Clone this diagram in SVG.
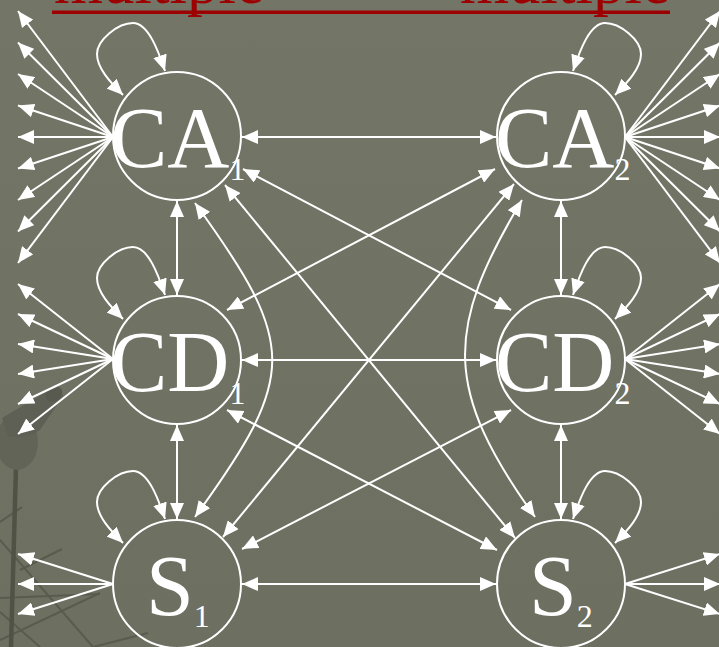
<svg xmlns="http://www.w3.org/2000/svg" width="719" height="647" viewBox="0 0 719 647">
  <defs>
    <linearGradient id="bg" x1="0" y1="0" x2="0" y2="1">
      <stop offset="0" stop-color="#737566"/>
      <stop offset="1" stop-color="#6d6f61"/>
    </linearGradient>
    <marker id="ah" markerUnits="userSpaceOnUse" markerWidth="16" markerHeight="14" viewBox="0 0 16 14" refX="16" refY="7" orient="auto-start-reverse">
      <path d="M0,0 L16,7 L0,14 z" fill="#fff"/>
    </marker>
    <path id="loopL" d="M123,95 C110,82 97,68 97,54 C97,40 118,23 133,23 C148,23 158,50 165,71"/>
    <path id="loopR" d="M615,95 C628,82 641,68 641,54 C641,40 620,23 605,23 C590,23 580,50 573,71"/>
  </defs>
  <style>
    .ln { stroke:#fff; stroke-width:2; fill:none; }
    .bi { marker-start:url(#ah); marker-end:url(#ah); }
    .one { marker-end:url(#ah); }
    .node circle { fill:none; stroke:#fff; stroke-width:2; }
    .lbl { font-family:"Liberation Serif","Times New Roman",serif; font-size:86px; fill:#fff; }
    .sub { font-size:32px; }
    .title { font-family:"Liberation Serif","Times New Roman",serif; font-size:63px; fill:#9c0000; }
    .deco { stroke:#595b4f; stroke-width:2; fill:none; }
  </style>

  <rect width="719" height="647" fill="url(#bg)"/>

  <!-- background decoration (lamp post and net) -->
  <g id="decoration">
    <line class="deco" x1="0" y1="522" x2="22" y2="507"/>
    <line class="deco" x1="0" y1="540" x2="93" y2="647"/>
    <line class="deco" x1="20" y1="570" x2="62" y2="549"/>
    <line class="deco" x1="0" y1="598" x2="100" y2="594"/>
    <line class="deco" x1="0" y1="640" x2="100" y2="593"/>
    <line class="deco" x1="93" y1="647" x2="148" y2="633"/>
    <line class="deco" x1="0" y1="612" x2="40" y2="647"/>
    <line x1="16" y1="466" x2="11" y2="647" stroke="#505246" stroke-width="4.5"/>
    <ellipse cx="17" cy="442" rx="21" ry="28" fill="#626458"/>
    <path d="M2,418 L46,392 Q60,384 63,396 L40,430 Q25,440 8,436 Z" fill="#5e6055"/>
    <ellipse cx="54" cy="394" rx="9" ry="7" transform="rotate(-35 54 394)" fill="#585a4f"/>
  </g>

  <!-- cut-off title -->
  <g id="title">
    <text class="title" x="54" y="3">multiple</text>
    <text class="title" x="460" y="3">multiple</text>
    <rect x="52" y="10.5" width="618" height="3.5" fill="#9c0000"/>
  </g>

  <g id="connectors">
    <!-- fans left -->
    <path class="ln one" d="M113,137 L18,11"/>
    <path class="ln one" d="M113,137 L18,42.5"/>
    <path class="ln one" d="M113,137 L18,74"/>
    <path class="ln one" d="M113,137 L18,105.5"/>
    <path class="ln one" d="M113,137 L18,137"/>
    <path class="ln one" d="M113,137 L18,168.5"/>
    <path class="ln one" d="M113,137 L18,200"/>
    <path class="ln one" d="M113,137 L18,231.5"/>
    <path class="ln one" d="M113,137 L18,263"/>

    <path class="ln one" d="M113,359 L18,284"/>
    <path class="ln one" d="M113,359 L18,314"/>
    <path class="ln one" d="M113,359 L18,344"/>
    <path class="ln one" d="M113,359 L18,374"/>
    <path class="ln one" d="M113,359 L18,404"/>
    <path class="ln one" d="M113,359 L18,434"/>

    <path class="ln one" d="M113,584 L18,554"/>
    <path class="ln one" d="M113,584 L18,584"/>
    <path class="ln one" d="M113,584 L18,614"/>

    <!-- fans right -->
    <path class="ln one" d="M625,137 L720,11"/>
    <path class="ln one" d="M625,137 L720,42.5"/>
    <path class="ln one" d="M625,137 L720,74"/>
    <path class="ln one" d="M625,137 L720,105.5"/>
    <path class="ln one" d="M625,137 L720,137"/>
    <path class="ln one" d="M625,137 L720,168.5"/>
    <path class="ln one" d="M625,137 L720,200"/>
    <path class="ln one" d="M625,137 L720,231.5"/>
    <path class="ln one" d="M625,137 L720,263"/>

    <path class="ln one" d="M625,359 L720,284"/>
    <path class="ln one" d="M625,359 L720,314"/>
    <path class="ln one" d="M625,359 L720,344"/>
    <path class="ln one" d="M625,359 L720,374"/>
    <path class="ln one" d="M625,359 L720,404"/>
    <path class="ln one" d="M625,359 L720,434"/>

    <path class="ln one" d="M625,584 L720,554"/>
    <path class="ln one" d="M625,584 L720,584"/>
    <path class="ln one" d="M625,584 L720,614"/>

    <!-- self loops -->
    <use href="#loopL" class="ln bi"/>
    <use href="#loopL" class="ln bi" transform="translate(0,224)"/>
    <use href="#loopL" class="ln bi" transform="translate(0,448)"/>
    <use href="#loopR" class="ln bi"/>
    <use href="#loopR" class="ln bi" transform="translate(0,224)"/>
    <use href="#loopR" class="ln bi" transform="translate(0,448)"/>

    <!-- vertical -->
    <path class="ln bi" d="M177,201 L177,295"/>
    <path class="ln bi" d="M177,425 L177,519"/>
    <path class="ln bi" d="M561,201 L561,295"/>
    <path class="ln bi" d="M561,425 L561,519"/>

    <!-- horizontal -->
    <path class="ln bi" d="M242,137 L496,137"/>
    <path class="ln bi" d="M242,360 L496,360"/>
    <path class="ln bi" d="M242,584 L496,584"/>

    <!-- diagonals -->
    <path class="ln bi" d="M243,169 L511,310"/>
    <path class="ln bi" d="M495,169 L227,310"/>
    <path class="ln bi" d="M225,185 L515,538"/>
    <path class="ln bi" d="M514,184 L223,537"/>
    <path class="ln bi" d="M227,410 L497,550"/>
    <path class="ln bi" d="M511,410 L242,549"/>

    <!-- arcs -->
    <path class="ln bi" d="M195,203 C298,345 298,375 195,517"/>
    <path class="ln bi" d="M522,200 C444,330 444,390 535,517"/>
  </g>

  <g id="CA1" class="node">
    <circle cx="177" cy="136" r="64"/>
    <text class="lbl" x="110" y="167">CA<tspan class="sub" dy="13">1</tspan></text>
  </g>
  <g id="CA2" class="node">
    <circle cx="561" cy="136" r="64"/>
    <text class="lbl" x="495" y="167">CA<tspan class="sub" dy="13">2</tspan></text>
  </g>
  <g id="CD1" class="node">
    <circle cx="177" cy="360" r="64"/>
    <text class="lbl" x="110" y="391">CD<tspan class="sub" dy="13">1</tspan></text>
  </g>
  <g id="CD2" class="node">
    <circle cx="561" cy="360" r="64"/>
    <text class="lbl" x="495" y="391">CD<tspan class="sub" dy="13">2</tspan></text>
  </g>
  <g id="S1" class="node">
    <circle cx="177" cy="584" r="64"/>
    <text class="lbl" x="146" y="615">S<tspan class="sub" dy="12">1</tspan></text>
  </g>
  <g id="S2" class="node">
    <circle cx="561" cy="584" r="64"/>
    <text class="lbl" x="529" y="615">S<tspan class="sub" dy="12">2</tspan></text>
  </g>
</svg>
